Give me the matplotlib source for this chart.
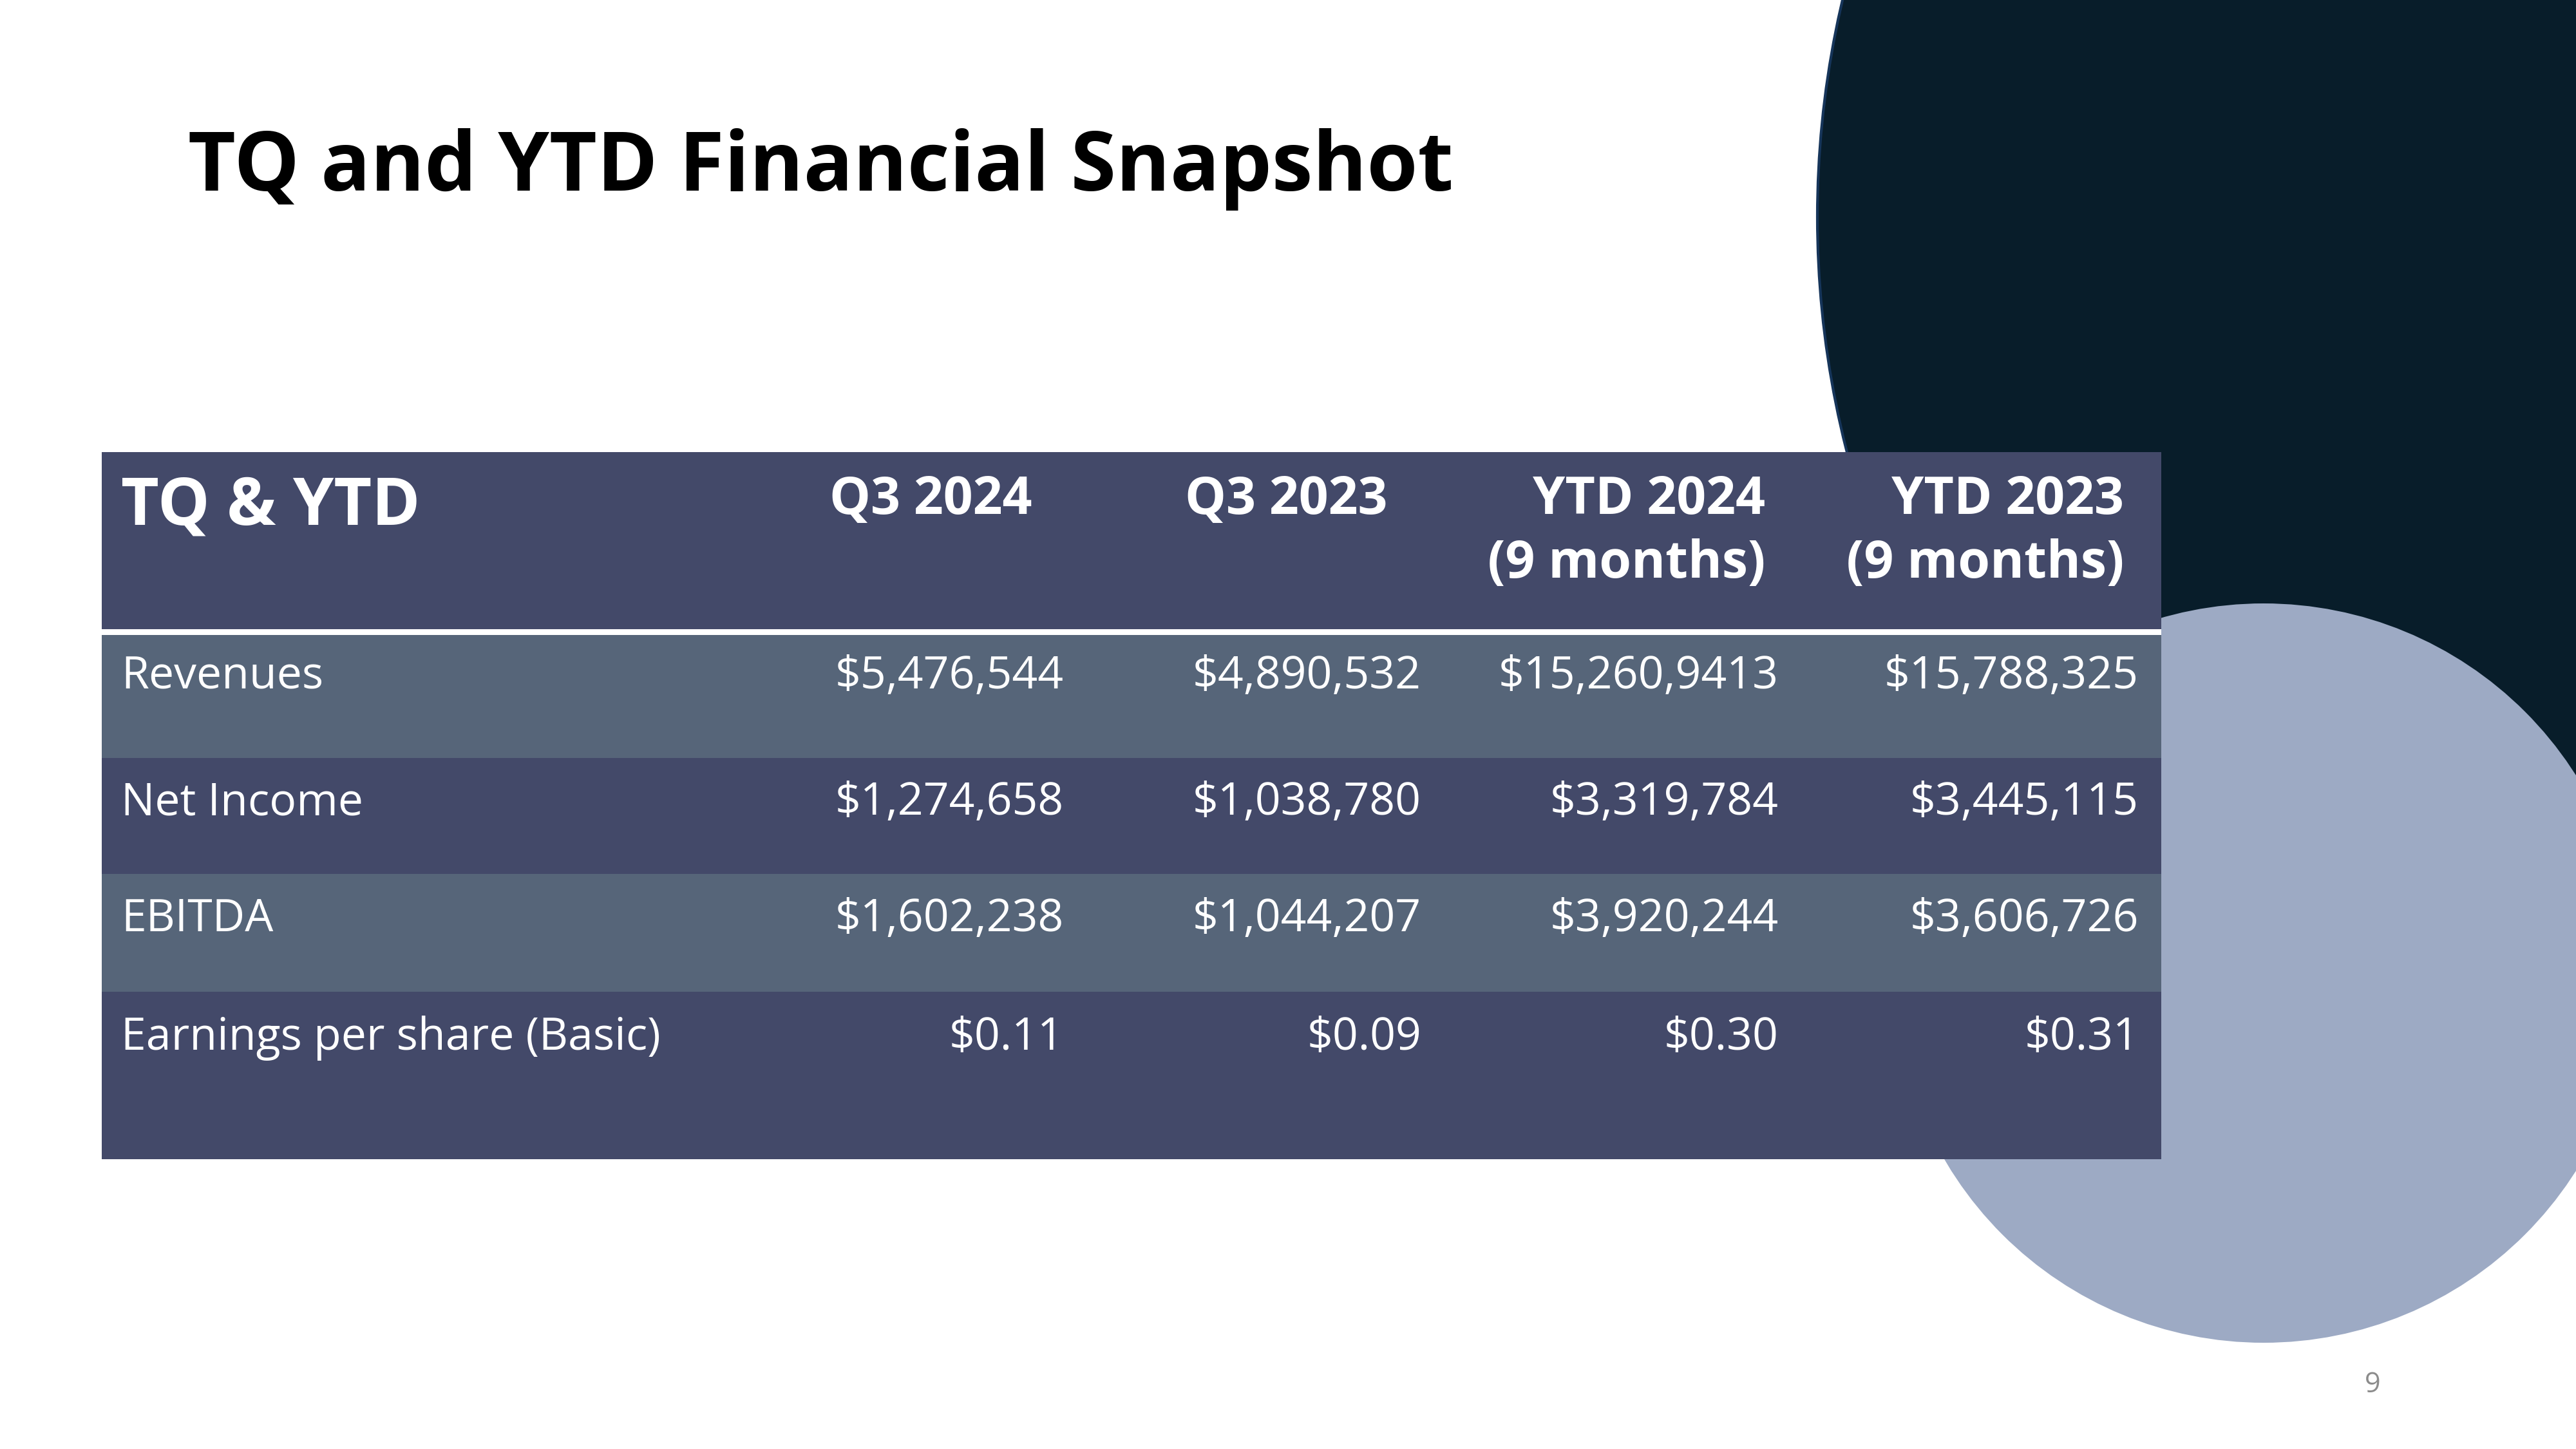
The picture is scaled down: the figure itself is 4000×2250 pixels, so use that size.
import matplotlib
matplotlib.use("Agg")
import matplotlib.pyplot as plt
from matplotlib.patches import Rectangle, Circle

# ---------------- data ----------------
title = "TQ and YTD Financial Snapshot"
header_label = "TQ & YTD"
column_headers = ["Q3 2024", "Q3 2023", "YTD 2024\n(9 months)", "YTD 2023\n(9 months)"]
row_labels = ["Revenues", "Net Income", "EBITDA", "Earnings per share (Basic)"]
q3_2024 = ["$5,476,544", "$1,274,658", "$1,602,238", "$0.11"]
q3_2023 = ["$4,890,532", "$1,038,780", "$1,044,207", "$0.09"]
ytd_2024 = ["$15,260,9413", "$3,319,784", "$3,920,244", "$0.30"]
ytd_2023 = ["$15,788,325", "$3,445,115", "$3,606,726", "$0.31"]
page_number = "9"

columns = [q3_2024, q3_2023, ytd_2024, ytd_2023]

# ---------------- style / layout ----------------
FONT = ["Open Sans", "DejaVu Sans"]
plt.rcParams["font.family"] = FONT

W, H = 4000, 2250
fig = plt.figure(figsize=(16, 9), dpi=250)
fig.patch.set_facecolor("white")
ax = fig.add_axes([0, 0, 1, 1])
ax.set_xlim(0, W)
ax.set_ylim(H, 0)
ax.axis("off")

# decorative circles
ax.add_patch(Circle((4298, 337), 1476, facecolor="#081D2A", edgecolor="#16355a",
                    linewidth=1.2, zorder=1))
ax.add_patch(Circle((3515, 1511), 574, facecolor="#9DAAC4", edgecolor="none", zorder=2))

# title
ax.text(292, 296, title, fontsize=36.8, fontweight="bold", color="black",
        ha="left", va="baseline", zorder=5)

# table geometry
tx0, tx1 = 158, 3356
header_top, header_bot = 702, 977
sep_bot = 986
row_edges = [986, 1177, 1357, 1540, 1800]
row_colors = ["#566579", "#434969", "#566579", "#434969"]
header_color = "#434969"
label_x = 188
value_right = [1652, 2207, 2762, 3321]
header_right = [1603, 2154, 2741, 3298]
row_baselines = [1069, 1265, 1446, 1630]

ax.add_patch(Rectangle((tx0, header_top), tx1 - tx0, header_bot - header_top,
                       facecolor=header_color, edgecolor="none", zorder=3))
ax.add_patch(Rectangle((tx0, header_bot), tx1 - tx0, sep_bot - header_bot,
                       facecolor="white", edgecolor="none", zorder=3))
for i in range(len(row_labels)):
    ax.add_patch(Rectangle((tx0, row_edges[i]), tx1 - tx0, row_edges[i + 1] - row_edges[i],
                           facecolor=row_colors[i], edgecolor="none", zorder=3))

# header texts
ax.text(label_x, 815, header_label, fontsize=29.3, fontweight="bold", color="white",
        ha="left", va="baseline", zorder=5)
for j, hdr in enumerate(column_headers):
    lines = hdr.split("\n")
    for k, line in enumerate(lines):
        ax.text(header_right[j], 798 + k * 99, line, fontsize=23.2, fontweight="bold",
                color="white", ha="right", va="baseline", zorder=5)

# body texts
for i, lab in enumerate(row_labels):
    ax.text(label_x, row_baselines[i], lab, fontsize=20.1, color="white",
            ha="left", va="baseline", zorder=5)
    for j, col in enumerate(columns):
        ax.text(value_right[j], row_baselines[i], col[i], fontsize=20.1, color="white",
                ha="right", va="baseline", zorder=5)

# page number
ax.text(3672, 2162, page_number, fontsize=12.5, color="#8c8c8c",
        ha="left", va="baseline", zorder=5)

fig.savefig("out.png", dpi=250, facecolor="white")
